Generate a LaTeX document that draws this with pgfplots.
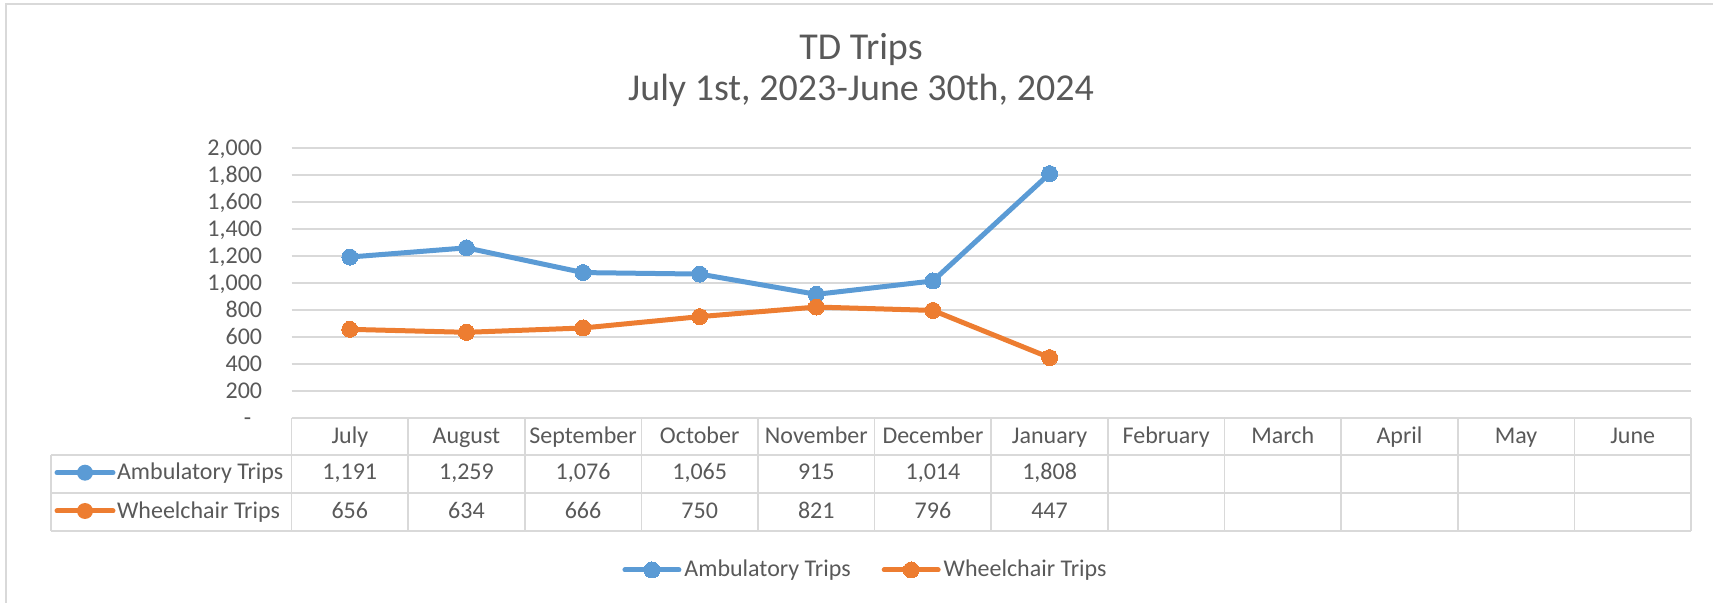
\documentclass[border=0pt]{standalone}
\usepackage{pgfplots}
\usepackage{pgfplotstable}
\pgfplotsset{compat=1.18}
\usepackage{fontspec}
\setmainfont{Carlito}
\definecolor{amb}{HTML}{5B9BD5}
\definecolor{wc}{HTML}{ED7D31}
\definecolor{txt}{HTML}{595959}
\definecolor{gridc}{HTML}{D9D9D9}
\pgfkeys{/pgf/number format/.cd, 1000 sep={,}, assume math mode=true}

\pgfplotstableread{
x month amb wc
0 July 1191 656
1 August 1259 634
2 September 1076 666
3 October 1065 750
4 November 915 821
5 December 1014 796
6 January 1808 447
}\datatable

\newcommand{\tfont}{\fontsize{12}{14.4}\selectfont}

\begin{document}
\begin{tikzpicture}
\begin{scope}[x=0.5pt,y=-0.5pt]
\path[use as bounding box] (0,0) rectangle (1713,603);
% outer border
\draw[gridc, line width=1pt] (5.5,603) -- (5.5,4) -- (1713,4);
% title
\node[anchor=base, text=txt, font=\fontsize{19}{23}\selectfont] at (861,60) {TD Trips};
\node[anchor=base, text=txt, font=\fontsize{19}{23}\selectfont] at (861,101) {July 1st, 2023-June 30th, 2024};
% table grid
\begin{scope}[gridc, line width=0.8pt]
\draw (51,455) -- (1691,455);
\draw (51,493.3) -- (1691,493.3);
\draw (51,531) -- (1691,531);
\draw (51,455) -- (51,531);
\foreach \i in {0,...,12} {\draw ({291.5+116.625*\i},418) -- ({291.5+116.625*\i},531);}
\end{scope}
% row keys and labels
\draw[amb, line width=2.5pt, line cap=round] (57,472.7) -- (113,472.7);
\fill[amb] (85,472.7) circle (4pt);
\draw[wc, line width=2.5pt, line cap=round] (57,511) -- (113,511);
\fill[wc] (85,511) circle (4pt);
\node[anchor=base west, inner sep=0pt, text=txt, font=\tfont] at (116.7,479.3) {Ambulatory Trips};
\node[anchor=base west, inner sep=0pt, text=txt, font=\tfont] at (116.7,518.3) {Wheelchair Trips};
\end{scope}

\begin{axis}[
  at={(145.75pt,-209pt)}, anchor=south west,
  scale only axis, width=699.75pt, height=135.15pt,
  xmin=-0.5, xmax=11.5, ymin=0, ymax=2000,
  clip=false,
  axis line style={draw=none},
  major tick length=0pt,
  ymajorgrids, grid style={gridc, line width=0.8pt},
  ytick={0,200,...,2000},
  yticklabels={{-\kern5.5pt},200,400,600,800,{1,000},{1,200},{1,400},{1,600},{1,800},{2,000}},
  yticklabel style={anchor=base east, inner sep=0pt, xshift=-14.5pt, yshift=-3.8pt, text=txt, font=\tfont},
  xtick={0,...,11},
  xticklabels={July,August,September,October,November,December,January,February,March,April,May,June},
  xticklabel style={anchor=base, inner sep=0pt, yshift=-12.65pt, text=txt, font=\tfont},
  legend style={at={(0.4105,-0.5623)}, anchor=center, draw=none, fill=none,
    legend columns=2, font=\tfont, text=txt,
    /tikz/every even column/.append style={column sep=14pt},
    nodes={inner sep=1.5pt}},
  legend image code/.code={\draw[mark repeat=2,mark phase=2,#1, line cap=round] plot coordinates {(0pt,0pt) (13.5pt,0pt) (27pt,0pt)};},
]
\addplot[amb, line width=2.5pt, mark=*, mark size=4pt, mark options={solid, fill=amb, draw=amb, line width=0pt}] table[x=x, y=amb] {\datatable};
\addlegendentry{Ambulatory Trips}
\addplot[wc, line width=2.5pt, mark=*, mark size=4pt, mark options={solid, fill=wc, draw=wc, line width=0pt}] table[x=x, y=wc] {\datatable};
\addlegendentry{Wheelchair Trips}
\pgfplotsinvokeforeach{0,...,6}{
  \node[anchor=base, inner sep=0pt, text=txt, font=\tfont] at (axis cs:#1,0) [yshift=-30.65pt] {\pgfplotstablegetelem{#1}{amb}\of\datatable\pgfmathprintnumber{\pgfplotsretval}};
  \node[anchor=base, inner sep=0pt, text=txt, font=\tfont] at (axis cs:#1,0) [yshift=-50.15pt] {\pgfplotstablegetelem{#1}{wc}\of\datatable\pgfmathprintnumber{\pgfplotsretval}};
}
\end{axis}
\end{tikzpicture}
\end{document}
